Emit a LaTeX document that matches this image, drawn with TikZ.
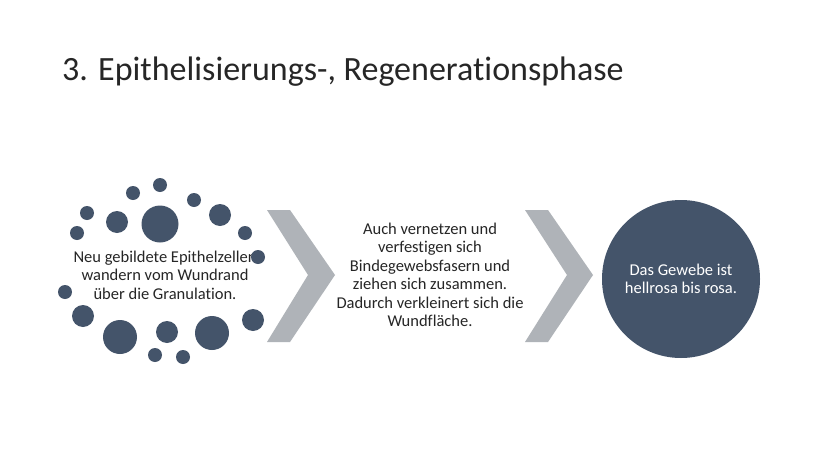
\documentclass[tikz,border=0pt]{standalone}
\usepackage{fontspec}
\setmainfont[Ligatures=NoCommon]{Carlito}
\definecolor{slate}{HTML}{44546A}
\definecolor{chevgray}{HTML}{AFB3B8}
\definecolor{textgray}{HTML}{262626}
\begin{document}
\begin{tikzpicture}[x=1pt, y=-1pt,
    every node/.style={text=textgray},
    dot/.style={circle, fill=slate, inner sep=0pt, minimum size=#1},
    body/.style={align=center, font=\fontsize{16.5}{18.5}\selectfont},
    chevron/.style={fill=chevgray}]
      \useasboundingbox[fill=white] (0,0) rectangle (828,466);

      % Title
      \node[anchor=base west, inner sep=0pt, font=\fontsize{34}{41}\selectfont] (title) at (62,80) {3. Epithelisierungs-, Regenerationsphase};

      % Step 1: text and cells
      \node[body] (migrate) at (165,275) {Neu gebildete Epithelzellen\\wandern vom Wundrand\\über die Granulation.};
      \node[dot=14pt] (d1) at (160,185) {};
      \node[dot=14pt] (d2) at (133,193) {};
      \node[dot=14pt] (d3) at (194,200) {};
      \node[dot=14pt] (d4) at (87,213) {};
      \node[dot=22pt] (d5) at (117,222) {};
      \node[dot=37pt] (d6) at (160,224) {};
      \node[dot=22pt] (d7) at (220,215) {};
      \node[dot=14pt] (d8) at (77,233) {};
      \node[dot=14pt] (d9) at (245,233) {};
      \node[dot=14pt] (d10) at (258,257) {};
      \node[dot=14pt] (d11) at (65,292) {};
      \node[dot=22pt] (d12) at (83,316) {};
      \node[dot=34pt] (d13) at (120,337) {};
      \node[dot=22pt] (d14) at (167,332) {};
      \node[dot=34pt] (d15) at (212,333) {};
      \node[dot=22pt] (d16) at (253,320) {};
      \node[dot=14pt] (d17) at (155,355) {};
      \node[dot=14pt] (d18) at (183,357) {};

      % Chevrons
      \fill[chevron] (267,210) -- (290,210) -- (335,275) -- (290,342) -- (267,342) -- (308,275) -- cycle;
      \fill[chevron] (525,210) -- (548,210) -- (593,275) -- (548,342) -- (525,342) -- (567,275) -- cycle;

      % Step 2
      \node[body] (fibres) at (430,275) {Auch vernetzen und\\verfestigen sich\\Bindegewebsfasern und\\ziehen sich zusammen.\\Dadurch verkleinert sich die\\Wundfläche.};

      % Step 3
      \node[circle, fill=slate, minimum size=158pt, inner sep=0pt, body, text=white] (result) at (681,279) {Das Gewebe ist\\hellrosa bis rosa.};
    \end{tikzpicture}
\end{document}
